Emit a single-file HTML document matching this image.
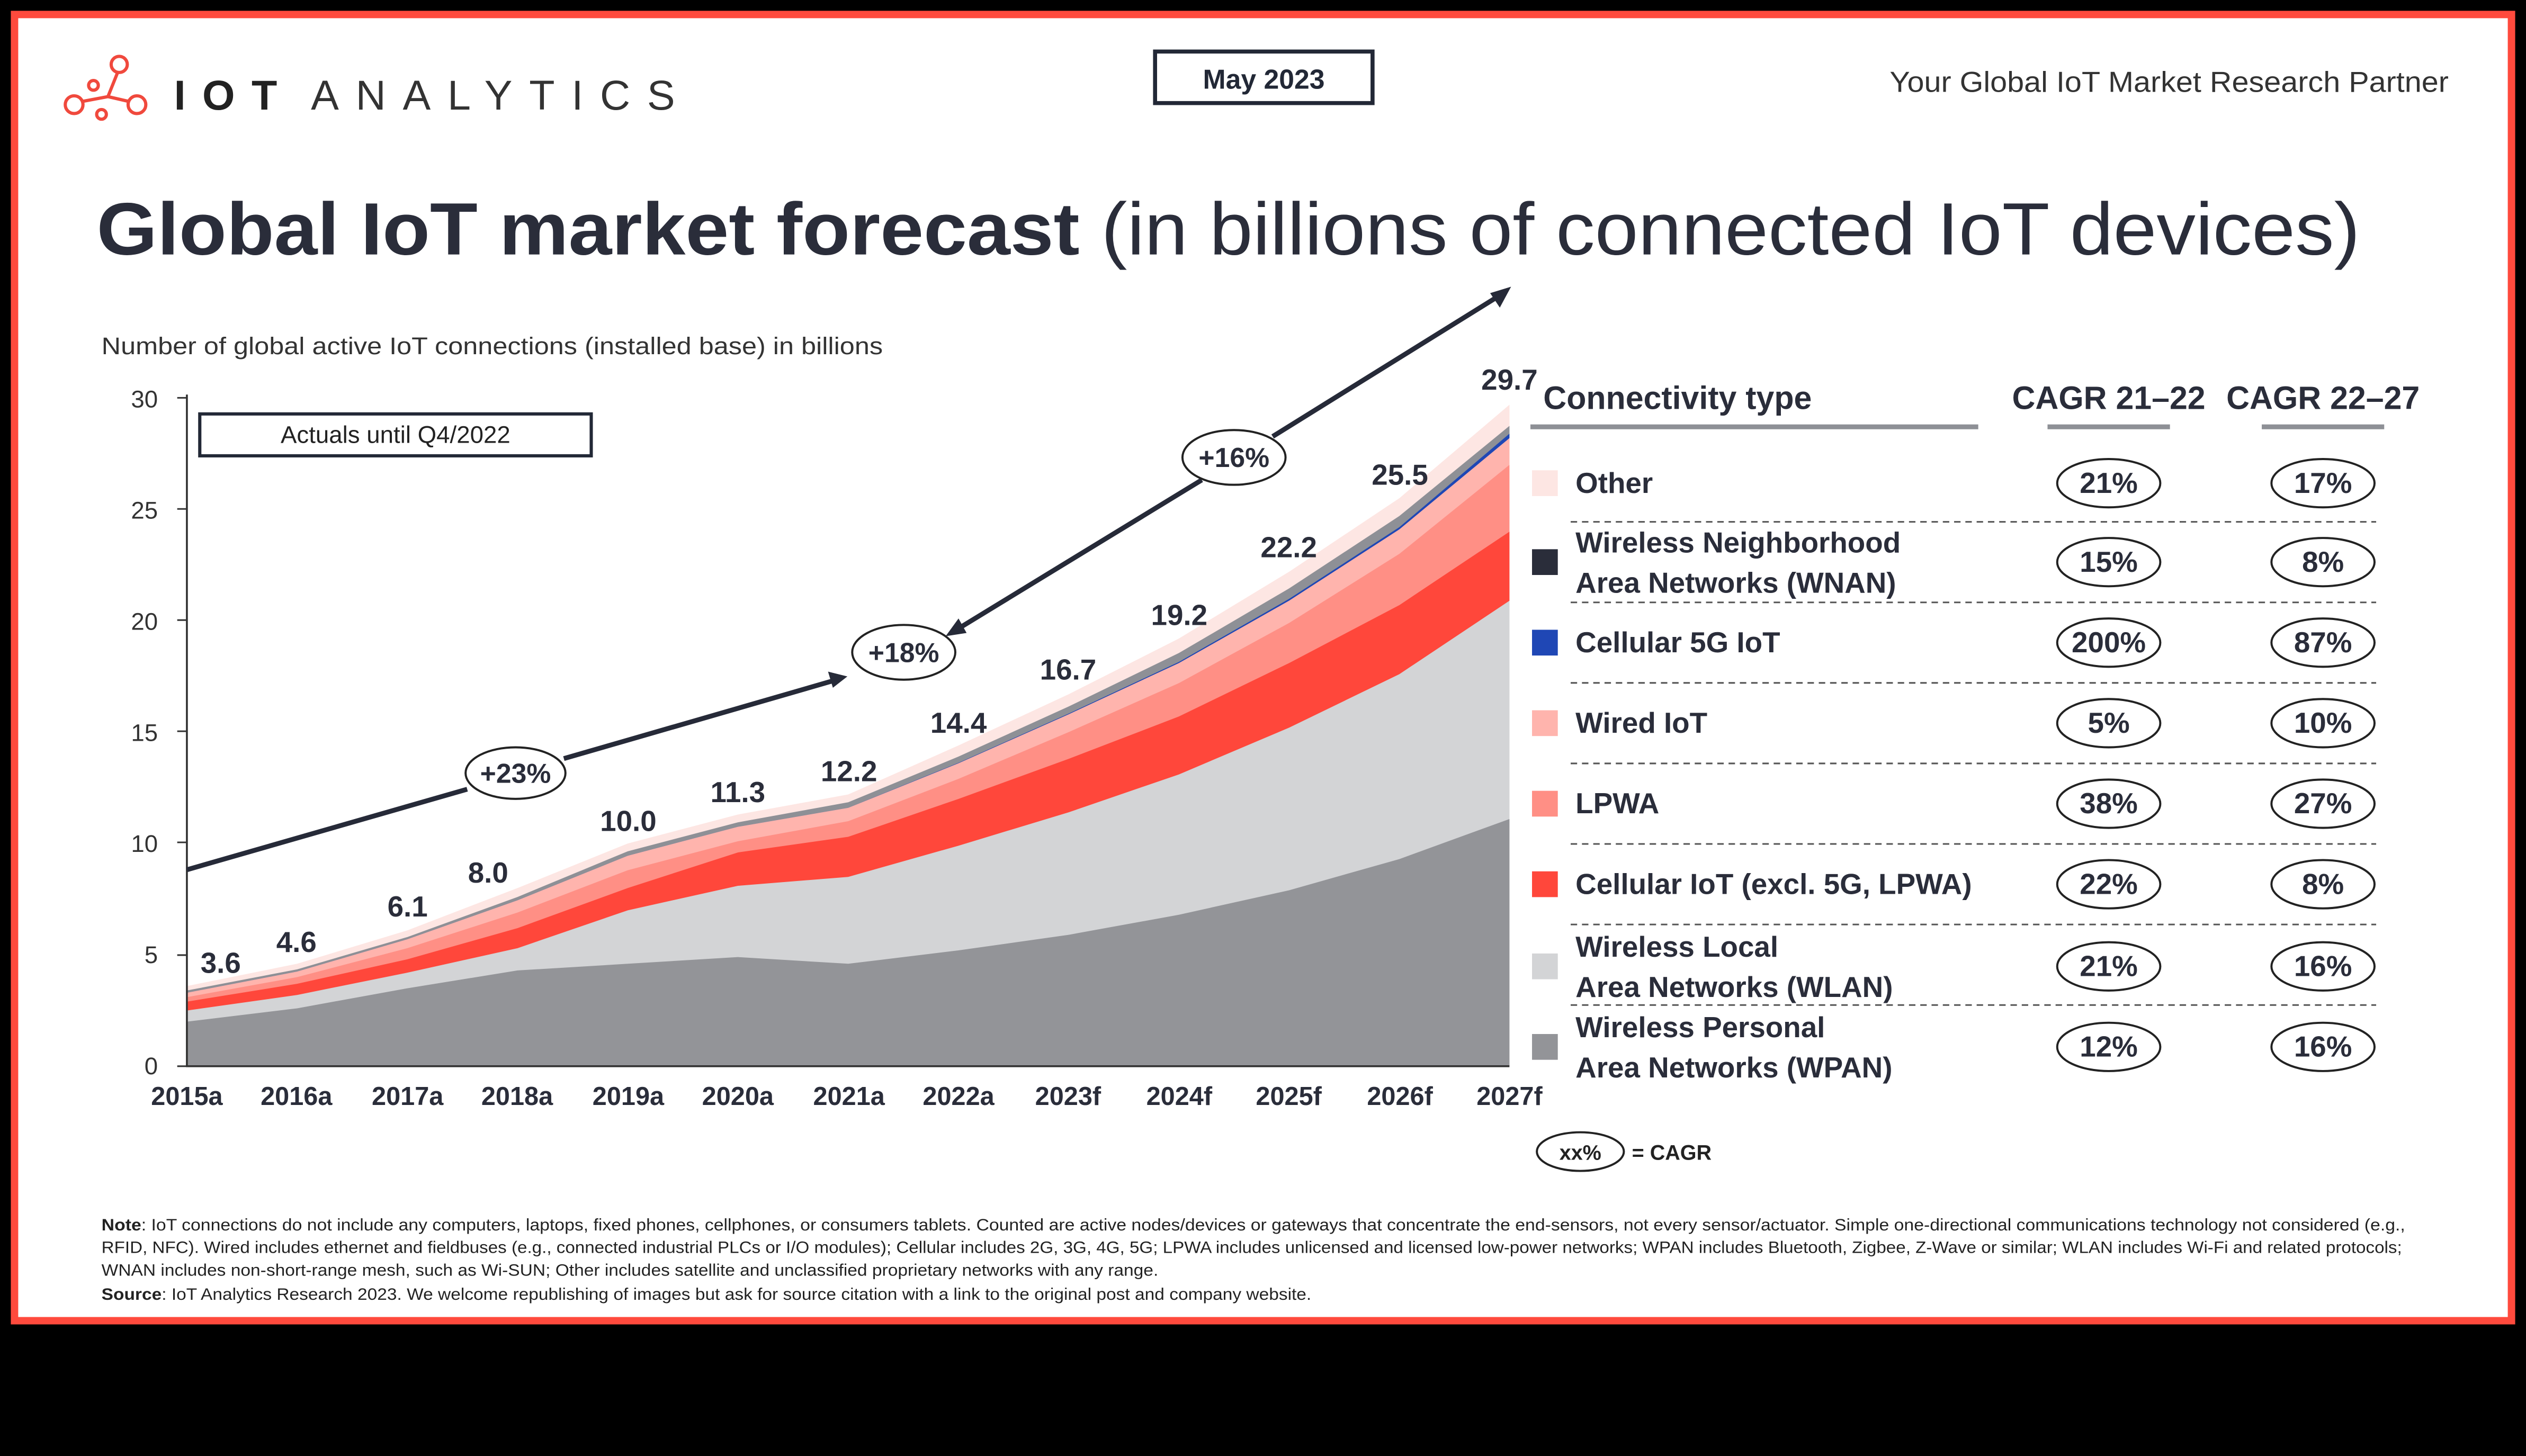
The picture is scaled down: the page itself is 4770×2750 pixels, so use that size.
<!DOCTYPE html>
<html><head><meta charset="utf-8"><style>html,body{margin:0;padding:0;background:#000}svg{display:block}text{font-family:"Liberation Sans",sans-serif}</style></head><body>
<svg width="4770" height="2750" viewBox="0 0 1568 904" xmlns="http://www.w3.org/2000/svg">
<rect width="1568" height="904" fill="#000"/>
<rect x="9" y="9" width="1550" height="811" fill="#fff" stroke="#ff4a3d" stroke-width="4.6"/>
<!-- logo -->
<g stroke="#f0493d" stroke-width="2" fill="none">
<circle cx="74" cy="40" r="5"/><circle cx="58" cy="53" r="3"/><circle cx="46" cy="65" r="5.5"/><circle cx="85" cy="65" r="5.5"/><circle cx="63" cy="71" r="3"/>
<path d="M73 45 L67 60 M67 60 L51 63 M67 60 L80 63"/></g>
<text x="108" y="68" font-size="26" font-weight="bold" fill="#222" textLength="64" lengthAdjust="spacing">IOT</text>
<text x="193" y="68" font-size="26" fill="#333" textLength="226" lengthAdjust="spacing">ANALYTICS</text>
<rect x="717" y="32" width="135" height="32" fill="#fff" stroke="#222836" stroke-width="2.5"/>
<text x="784.5" y="55" font-size="17" font-weight="bold" fill="#222836" text-anchor="middle">May 2023</text>
<text x="1173" y="57" font-size="18" fill="#333" textLength="347" lengthAdjust="spacingAndGlyphs">Your Global IoT Market Research Partner</text>
<text x="60" y="158" font-size="46" fill="#2a2d3a" textLength="1405" lengthAdjust="spacingAndGlyphs"><tspan font-weight="bold">Global IoT market forecast</tspan> (in billions of connected IoT devices)</text>
<text x="63" y="220" font-size="15" fill="#333" textLength="485" lengthAdjust="spacingAndGlyphs">Number of global active IoT connections (installed base) in billions</text>
<!-- axis labels -->
<g font-size="15" fill="#333" text-anchor="end">
<text x="98" y="667">0</text><text x="98" y="598">5</text><text x="98" y="529">10</text><text x="98" y="460">15</text><text x="98" y="391">20</text><text x="98" y="322">25</text><text x="98" y="253">30</text></g>
<!-- stacked areas -->
<g transform="translate(116,662) scale(68.42,-13.83)">
<path fill="#fde6e3" d="M0,0 L0,3.6 1,4.6 2,6.1 3,8.0 4,10.0 5,11.3 6,12.2 7,14.4 8,16.7 9,19.2 10,22.2 11,25.5 12,29.7 L12,0Z"/>
<path fill="#8e9096" d="M0,0 L0,3.4 1,4.35 2,5.8 3,7.6 4,9.65 5,10.95 6,11.85 7,13.9 8,16.15 9,18.55 10,21.45 11,24.7 12,28.75 L12,0Z"/>
<path fill="#1f47b5" d="M0,0 L0,3.3 1,4.25 2,5.7 3,7.45 4,9.45 5,10.75 6,11.6 7,13.62 8,15.83 9,18.15 10,20.98 11,24.2 12,28.4 L12,0Z"/>
<path fill="#ffb4ad" d="M0,0 L0,3.3 1,4.25 2,5.7 3,7.45 4,9.45 5,10.75 6,11.6 7,13.6 8,15.8 9,18.1 10,20.9 11,24.1 12,28.2 L12,0Z"/>
<path fill="#ff8f85" d="M0,0 L0,3.1 1,4.0 2,5.3 3,6.9 4,8.8 5,10.1 6,11.0 7,12.9 8,15.0 9,17.2 10,19.9 11,23.0 12,27.0 L12,0Z"/>
<path fill="#ff473b" d="M0,0 L0,2.9 1,3.7 2,4.8 3,6.2 4,8.0 5,9.6 6,10.3 7,12.0 8,13.8 9,15.7 10,18.1 11,20.7 12,24.0 L12,0Z"/>
<path fill="#d3d4d6" d="M0,0 L0,2.5 1,3.2 2,4.2 3,5.3 4,7.0 5,8.1 6,8.5 7,9.9 8,11.4 9,13.1 10,15.2 11,17.6 12,20.9 L12,0Z"/>
<path fill="#939498" d="M0,0 L0,2.0 1,2.6 2,3.5 3,4.3 4,4.6 5,4.9 6,4.6 7,5.2 8,5.9 9,6.8 10,7.9 11,9.3 12,11.1 L12,0Z"/>
</g>
<path d="M116 245 V662 H937" stroke="#333" stroke-width="1.2" fill="none"/>
<g stroke="#333" stroke-width="1"><path d="M110 247H116M110 316H116M110 385H116M110 454H116M110 523H116M110 593H116M110 662H116"/></g>
<g font-size="16" font-weight="bold" fill="#2a2d3a" text-anchor="middle">
<text x="116" y="686">2015a</text><text x="184" y="686">2016a</text><text x="253" y="686">2017a</text><text x="321" y="686">2018a</text><text x="390" y="686">2019a</text><text x="458" y="686">2020a</text><text x="527" y="686">2021a</text><text x="595" y="686">2022a</text><text x="663" y="686">2023f</text><text x="732" y="686">2024f</text><text x="800" y="686">2025f</text><text x="869" y="686">2026f</text><text x="937" y="686">2027f</text></g>
<rect x="937" y="250" width="20" height="414" fill="#fff"/>
<g font-size="18" font-weight="bold" fill="#2a2d3a" text-anchor="middle">
<text x="137" y="604">3.6</text><text x="184" y="591">4.6</text><text x="253" y="569">6.1</text><text x="303" y="548">8.0</text><text x="390" y="516">10.0</text><text x="458" y="498">11.3</text><text x="527" y="485">12.2</text><text x="595" y="455">14.4</text><text x="663" y="422">16.7</text><text x="732" y="388">19.2</text><text x="800" y="346">22.2</text><text x="869" y="301">25.5</text><text x="937" y="242">29.7</text></g>
<rect x="124" y="257" width="243" height="26" fill="#fff" stroke="#222836" stroke-width="2"/>
<text x="245.5" y="275" font-size="15" fill="#222" text-anchor="middle">Actuals until Q4/2022</text>
<!-- arrows -->
<g stroke="#262a38" stroke-width="3" fill="none">
<path d="M116 540 L290 490 M350 471 L516 423"/>
<path d="M597 389 L746 298 M790 271 L930 184"/></g>
<g fill="#262a38"><path d="M526 420 L514 417 L517 427Z"/><path d="M587 395 L595 384 L600 393Z"/><path d="M938 178 L925 182 L931 191Z"/></g>
<g fill="#fff" stroke="#222" stroke-width="1.3">
<ellipse cx="320" cy="480" rx="31" ry="16"/><ellipse cx="561" cy="405" rx="32" ry="17"/><ellipse cx="766" cy="284" rx="32" ry="17"/></g>
<g font-size="17" font-weight="bold" fill="#2a2d3a" text-anchor="middle">
<text x="320" y="486">+23%</text><text x="561" y="411">+18%</text><text x="766" y="290">+16%</text></g>
<!-- legend -->
<text x="958" y="254" font-size="20" font-weight="bold" fill="#2a2d3a">Connectivity type</text>
<text x="1309" y="254" font-size="20" font-weight="bold" fill="#2a2d3a" text-anchor="middle">CAGR 21–22</text>
<text x="1442" y="254" font-size="20" font-weight="bold" fill="#2a2d3a" text-anchor="middle">CAGR 22–27</text>
<g stroke="#8e9096" stroke-width="3"><path d="M950 265H1228M1271 265H1347M1404 265H1480"/></g>
<g stroke="#555" stroke-width="1" stroke-dasharray="4,3"><path d="M975 324H1475M975 374H1475M975 424H1475M975 474H1475M975 524H1475M975 574H1475M975 624H1475"/></g>
<rect x="951" y="292" width="16" height="16" fill="#fde6e3"/>
<rect x="951" y="341" width="16" height="16" fill="#2a2d3a"/>
<rect x="951" y="391" width="16" height="16" fill="#1f47b5"/>
<rect x="951" y="441" width="16" height="16" fill="#ffb4ad"/>
<rect x="951" y="491" width="16" height="16" fill="#ff8f85"/>
<rect x="951" y="541" width="16" height="16" fill="#ff473b"/>
<rect x="951" y="592" width="16" height="16" fill="#d3d4d6"/>
<rect x="951" y="642" width="16" height="16" fill="#939498"/>
<g font-size="18" font-weight="bold" fill="#2a2d3a">
<text x="978" y="306">Other</text>
<text x="978" y="343">Wireless Neighborhood</text><text x="978" y="368">Area Networks (WNAN)</text>
<text x="978" y="405">Cellular 5G IoT</text>
<text x="978" y="455">Wired IoT</text>
<text x="978" y="505">LPWA</text>
<text x="978" y="555">Cellular IoT (excl. 5G, LPWA)</text>
<text x="978" y="594">Wireless Local</text><text x="978" y="619">Area Networks (WLAN)</text>
<text x="978" y="644">Wireless Personal</text><text x="978" y="669">Area Networks (WPAN)</text></g>
<g fill="#fff" stroke="#222" stroke-width="1.3">
<ellipse cx="1309" cy="300" rx="32" ry="15"/><ellipse cx="1442" cy="300" rx="32" ry="15"/>
<ellipse cx="1309" cy="349" rx="32" ry="15"/><ellipse cx="1442" cy="349" rx="32" ry="15"/>
<ellipse cx="1309" cy="399" rx="32" ry="15"/><ellipse cx="1442" cy="399" rx="32" ry="15"/>
<ellipse cx="1309" cy="449" rx="32" ry="15"/><ellipse cx="1442" cy="449" rx="32" ry="15"/>
<ellipse cx="1309" cy="499" rx="32" ry="15"/><ellipse cx="1442" cy="499" rx="32" ry="15"/>
<ellipse cx="1309" cy="549" rx="32" ry="15"/><ellipse cx="1442" cy="549" rx="32" ry="15"/>
<ellipse cx="1309" cy="600" rx="32" ry="15"/><ellipse cx="1442" cy="600" rx="32" ry="15"/>
<ellipse cx="1309" cy="650" rx="32" ry="15"/><ellipse cx="1442" cy="650" rx="32" ry="15"/>
<ellipse cx="981" cy="715" rx="27" ry="12"/></g>
<g font-size="18" font-weight="bold" fill="#2a2d3a" text-anchor="middle">
<text x="1309" y="306">21%</text><text x="1442" y="306">17%</text>
<text x="1309" y="355">15%</text><text x="1442" y="355">8%</text>
<text x="1309" y="405">200%</text><text x="1442" y="405">87%</text>
<text x="1309" y="455">5%</text><text x="1442" y="455">10%</text>
<text x="1309" y="505">38%</text><text x="1442" y="505">27%</text>
<text x="1309" y="555">22%</text><text x="1442" y="555">8%</text>
<text x="1309" y="606">21%</text><text x="1442" y="606">16%</text>
<text x="1309" y="656">12%</text><text x="1442" y="656">16%</text></g>
<text x="981" y="720" font-size="13" font-weight="bold" fill="#222" text-anchor="middle">xx%</text>
<text x="1013" y="720" font-size="13" font-weight="bold" fill="#222">= CAGR</text>
<g font-size="10.2" fill="#222" lengthAdjust="spacingAndGlyphs">
<text x="63" y="764" textLength="1430" lengthAdjust="spacingAndGlyphs"><tspan font-weight="bold">Note</tspan>: IoT connections do not include any computers, laptops, fixed phones, cellphones, or consumers tablets. Counted are active nodes/devices or gateways that concentrate the end-sensors, not every sensor/actuator. Simple one-directional communications technology not considered (e.g.,</text>
<text x="63" y="778" textLength="1428" lengthAdjust="spacingAndGlyphs">RFID, NFC). Wired includes ethernet and fieldbuses (e.g., connected industrial PLCs or I/O modules); Cellular includes 2G, 3G, 4G, 5G; LPWA includes unlicensed and licensed low-power networks; WPAN includes Bluetooth, Zigbee, Z-Wave or similar; WLAN includes Wi-Fi and related protocols;</text>
<text x="63" y="792" textLength="656" lengthAdjust="spacingAndGlyphs">WNAN includes non-short-range mesh, such as Wi-SUN; Other includes satellite and unclassified proprietary networks with any range.</text>
<text x="63" y="807" textLength="751" lengthAdjust="spacingAndGlyphs"><tspan font-weight="bold">Source</tspan>: IoT Analytics Research 2023. We welcome republishing of images but ask for source citation with a link to the original post and company website.</text></g>
</svg>
</body></html>
